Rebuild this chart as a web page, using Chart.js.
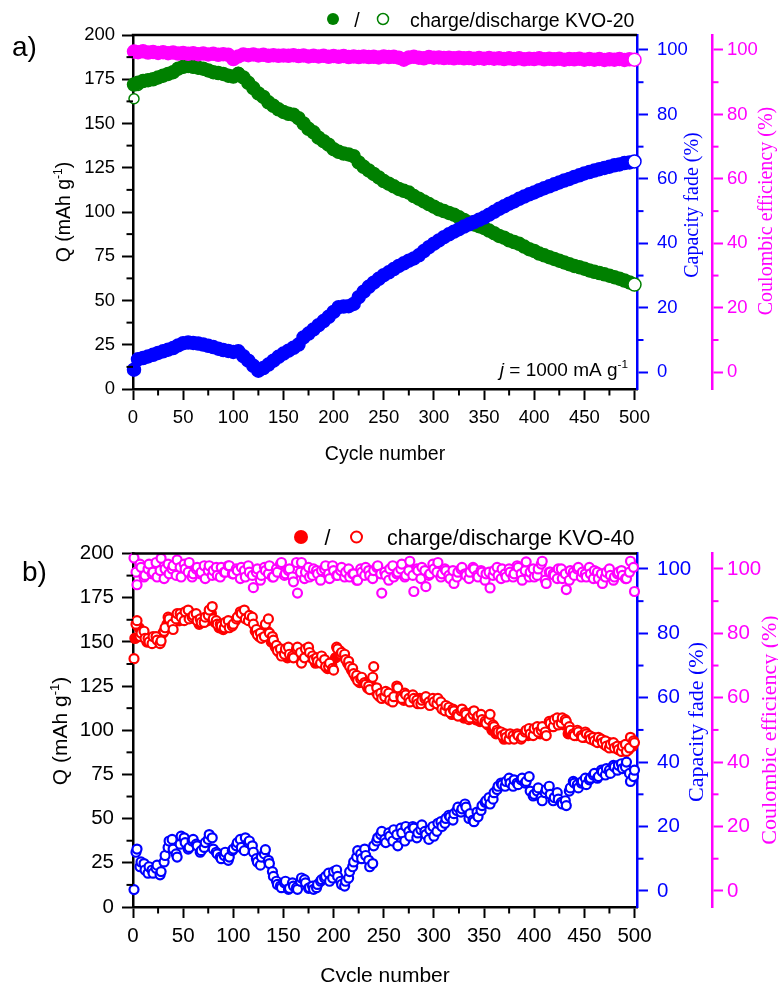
<!DOCTYPE html>
<html><head><meta charset="utf-8">
<script src="https://cdn.jsdelivr.net/npm/chart.js@4.4.1/dist/chart.umd.min.js"></script>
<style>
html,body{margin:0;padding:0;background:#fff;}
#wrap{position:relative;width:778px;height:982px;overflow:hidden;background:#fff;}
canvas{position:absolute;left:0;}
#c1{top:0;} #c2{top:490px;}
</style></head><body>
<div id="wrap"><canvas id="c1" width="778" height="490"></canvas><canvas id="c2" width="778" height="492"></canvas></div>
<script>
const SANS = '"Liberation Sans", Arial, Helvetica, sans-serif';
const SERIF = '"Liberation Serif", "Times New Roman", Times, serif';
const GREEN = '#008000', BLUE = '#0000ff', MAGENTA = '#ff00ff', RED = '#ff0000';

// ---------- tick labels ----------
const xTickLabels = [0,50,100,150,200,250,300,350,400,450,500];
const qTickLabels = [0,25,50,75,100,125,150,175,200];
const pctTickLabels = [0,20,40,60,80,100];

// ---------- panel a) KVO-20 ----------
const cyclesA = [1,5,10,15,20,25,30,35,40,45,50,55,60,65,70,75,80,85,90,95,100,105,110,115,120,125,130,135,140,145,150,155,160,165,170,175,180,185,190,195,200,205,210,215,220,225,230,235,240,245,250,255,260,265,270,275,280,285,290,295,300,305,310,315,320,325,330,335,340,345,350,355,360,365,370,375,380,385,390,395,400,405,410,415,420,425,430,435,440,445,450,455,460,465,470,475,480,485,490,495,500];
const chargeA = [172,173,174,174.5,175,176,177,178,179,181,182,182.5,182,181.5,181,180,179,178.5,178,177,176.5,178,176,173,170,167,165,162,160,158,156.5,155.5,155,153,150,147,145,142,140,138,135.5,134,133,132.5,131.5,128,125.5,123.5,121.5,119.5,117.5,116,114.5,113,112,111,109,107.5,106,104.5,103,101.5,100.5,99.5,98.5,97,95.5,94,93,92,91,89.5,88,86.5,85.5,84,83,82,80.5,79,78,76.5,75.5,74.5,73.5,72.5,71.5,70.5,69.5,68.8,68,67,66.2,65.5,64.8,64,63.2,62.3,61.3,60.2,59];
const dischargeA = [164,171.5,173.5,174,174.5,175.5,176.5,177.5,178.5,180.5,181.5,182,181.5,181,180.5,179.5,178.5,178,177.5,176.5,176,179,175.5,172.5,169.5,166.5,164.5,161.5,159.5,157.5,156,155,154.5,152.5,149.5,146.5,144.5,141.5,139.5,137.5,135,133.5,132.5,132,131,127.5,125,123,121,119,117,115.5,114,112.5,111.5,110.5,108.5,107,105.5,104,102.5,101,100,99,98,96.5,95,93.5,92.5,91.5,90.5,89,87.5,86,85,83.5,82.5,81.5,80,78.5,77.5,76,75,74,73,72,71,70,69,68.3,67.5,66.5,65.7,65,64.3,63.5,62.7,61.8,60.8,59.7,58.5];
const fadeA = [0.8,4.0,4.4,4.9,5.4,6.0,6.5,7.0,7.5,8.3,9.0,9.2,9.1,8.9,8.6,8.2,7.8,7.3,6.9,6.6,6.3,6.5,5.0,3.6,2.0,0.5,1.3,2.4,3.6,4.8,5.8,6.7,7.6,8.6,10.8,12.0,13.3,14.6,15.9,17.2,18.7,20.2,20.4,20.5,21.2,23.3,25.0,26.5,27.8,29.0,30.1,31.0,32.0,33.0,33.8,34.6,35.3,36.3,37.6,38.8,39.9,40.9,41.9,42.8,43.6,44.4,45.2,45.9,46.6,47.3,48.0,48.9,49.8,50.7,51.5,52.3,53.0,53.8,54.5,55.2,55.8,56.5,57.1,57.7,58.3,58.9,59.5,60.0,60.6,61.1,61.7,62.1,62.6,63.0,63.4,63.8,64.2,64.5,64.9,65.1,65.4];
const ceA = [99.5,99.3,99.6,99.2,99.4,99.1,99.3,99.0,99.2,98.9,99.1,98.8,99.0,98.7,98.9,98.6,98.8,98.5,98.7,98.5,97.2,98.0,98.6,98.4,98.6,98.3,98.5,98.2,98.4,98.2,98.3,98.2,98.4,98.1,98.3,98.0,98.2,98.0,98.2,97.9,98.1,97.9,98.1,97.8,98.0,97.8,98.0,97.8,97.9,97.7,98.0,97.8,97.9,97.6,97.0,97.7,97.9,97.6,97.4,97.8,97.6,97.7,97.5,97.6,97.4,97.6,97.4,97.5,97.3,97.5,97.3,97.5,97.3,97.4,97.2,97.4,97.2,97.4,97.1,97.3,97.2,97.4,97.1,97.3,97.1,97.3,97.0,97.2,97.1,97.3,97.0,97.2,97.0,97.2,96.9,97.1,97.0,97.2,96.9,97.1,97.0];

// ---------- panel b) KVO-40 ----------
const cyclesB = [1,4,8,12,16,20,24,28,32,36,40,44,48,52,56,60,64,68,72,76,80,84,88,92,96,100,104,108,112,116,120,124,128,132,136,140,144,148,152,156,160,164,168,172,176,180,184,188,192,196,200,204,208,212,216,220,224,228,232,236,240,244,248,252,256,260,264,268,272,276,280,284,288,292,296,300,304,308,312,316,320,324,328,332,336,340,344,348,352,356,360,364,368,372,376,380,384,388,392,396,400,404,408,412,416,420,424,428,432,436,440,444,448,452,456,460,464,468,472,476,480,484,488,492,496,500];
const cyclesB2 = [3,7,11,15,19,23,27,31,35,39,43,47,51,55,59,63,67,71,75,79,83,87,91,95,99,103,107,111,115,119,123,127,131,135,139,143,147,151,155,159,163,167,171,175,179,183,187,191,195,199,203,207,211,215,219,223,227,231,235,239,243,247,251,255,259,263,267,271,275,279,283,287,291,295,299,303,307,311,315,319,323,327,331,335,339,343,347,351,355,359,363,367,371,375,379,383,387,391,395,399,403,407,411,415,419,423,427,431,435,439,443,447,451,455,459,463,467,471,475,479,483,487,491,495,499];
const chargeCyclesB = [2,6,10,14,18,22,26,30,34,38,42,46,50,54,58,62,66,70,74,78,82,86,90,94,98,102,106,110,114,118,122,126,130,134,138,142,146,150,154,158,162,166,170,174,178,182,186,190,194,198,202,206,210,214,218,222,226,230,234,238,242,246,250,254,258,262,266,270,274,278,282,286,290,294,298,302,306,310,314,318,322,326,330,334,338,342,346,350,354,358,362,366,370,374,378,382,386,390,394,398,402,406,410,414,418,422,426,430,434,438,442,446,450,454,458,462,466,470,474,478,482,486,490,494,498];
const dischargeB = [140.5,162,155,152,150,153,151,150.5,158,163,157,166,164,167,163,165,162,161,164,168,163,160,159,161,158,160,164,166,163,165,160,154,152,160,155,151,145,142,146,143,141,147,138,146,144,140,139,142,136,138,134,146,144,140,136,132,128,130,126,123,136,120,118,122,117,119,124,118,120,116,118,115,117,119,114,116,118,112,114,110,111,108,112,109,107,111,108,106,104,109,102,99,97,96,98,95,97,96,100,98,101,99,102,97,104,106,103,107,105,100,97,99,96,98,95,94,96,93,91,92,90,89,91,88,96,93];
const dischargeB2 = [160,153,156,152,149,153,149,156,164,160,163,166,162,168,164,166,163,161,165,170,162,160,158,162,159,163,167,168,162,164,157,155,153,163,153,148,146,143,147,142,146,144,141,147,142,141,138,140,136,135,147,143,143,139,135,131,129,127,125,130,124,121,119,121,116,125,119,121,118,120,117,115,118,116,118,115,116,111,113,112,109,111,110,106,109,107,109,105,106,103,100,99,98,95,97,98,95,99,101,97,102,100,99,105,102,107,104,106,102,98,100,97,99,97,96,93,95,94,90,93,91,88,92,90,94];
const chargeB = [152,158,154,150,152,150,152,155,160,161,164,162,165,164,166,163,160,163,162,166,161,158,157,160,161,162,165,167,164,162,156,153,155,156,150,147,144,145,141,143,145,144,142,145,141,138,140,138,135,137,141,145,142,138,134,130,127,128,124,125,122,119,120,118,120,118,121,117,119,117,116,118,116,117,115,117,114,113,112,109,110,110,107,108,110,106,105,107,103,100,98,98,95,97,96,96,97,98,97,99,100,98,100,102,103,104,105,103,98,99,97,98,96,97,95,95,94,92,93,91,90,89,90,89,91];
const fadeB = [0.4,13.0,9.0,6.5,7.5,5.5,8.0,6.0,11.0,15.5,13.0,10.5,17.0,15.0,13.5,16.0,14.0,12.5,15.0,17.5,13.0,11.5,10.0,12.0,10.5,13.0,15.0,13.5,16.5,15.5,12.0,9.0,10.5,12.8,8.5,4.5,2.0,1.0,3.0,0.8,1.5,0.5,4.0,2.5,1.0,0.5,2.0,3.5,4.5,3.0,6.0,4.5,2.0,3.0,6.0,9.0,12.5,10.0,11.0,7.5,14.0,16.5,18.5,15.0,17.0,19.0,14.0,18.0,20.0,17.0,19.5,18.0,20.5,17.5,19.0,17.0,21.0,20.0,22.5,23.0,24.0,26.0,25.5,26.0,24.0,21.5,23.0,26.5,28.0,27.0,30.5,32.5,33.0,34.0,33.5,34.5,33.0,35.0,34.0,31.0,30.0,32.0,28.0,31.5,30.0,29.0,28.5,27.0,26.5,32.0,33.5,32.0,34.0,33.0,35.0,36.5,35.5,37.0,38.0,36.5,38.5,39.0,38.0,40.0,34.0,37.5];
const fadeB2 = [12.0,7.5,8.5,5.5,6.5,7.0,5.0,9.0,13.5,16.0,11.5,14.5,16.5,13.0,15.5,14.5,12.0,13.5,16.0,16.5,12.0,10.5,11.0,9.5,12.5,14.0,16.0,12.5,15.0,14.0,10.0,8.0,11.5,9.5,6.0,3.0,1.5,2.5,0.5,2.5,1.0,3.0,3.5,0.8,1.5,1.0,3.0,4.0,5.5,4.0,6.5,3.0,1.5,4.0,7.5,10.5,11.5,13.0,9.5,8.5,15.5,17.5,16.0,18.0,15.5,17.5,19.5,15.5,18.5,20.0,16.5,19.0,18.5,16.0,20.0,18.5,21.5,21.0,23.5,22.0,25.0,24.5,27.0,22.5,22.0,24.5,25.0,27.5,29.0,28.5,31.5,33.5,32.5,35.0,32.5,33.5,34.5,33.5,35.5,29.5,31.0,29.0,30.5,32.5,28.0,30.5,27.5,28.0,31.0,34.0,33.0,33.5,35.0,34.5,36.0,35.0,37.5,36.0,37.5,39.0,37.5,39.5,38.5,36.5,35.5];
const ceB = [103.4,95.1,100.5,98.0,101.5,99.0,97.5,103.3,100.0,98.5,101.0,102.8,97.5,100.0,102.0,98.5,100.5,99.0,97.0,101.0,99.5,98.0,100.5,99.0,101.0,98.5,99.5,100.5,97.5,99.0,94.2,100.0,98.0,99.5,101.0,97.5,99.0,102.0,98.5,100.0,96.0,92.5,102.0,99.0,97.5,100.0,98.5,99.5,101.0,97.0,99.5,98.0,100.5,99.0,97.5,98.5,96.5,99.0,100.5,98.0,99.5,101.0,92.5,98.0,100.0,97.5,99.0,101.5,98.0,102.4,93.0,99.5,100.5,94.5,98.5,100.0,102.0,98.5,99.5,97.0,95.5,99.0,100.5,98.0,99.0,100.0,97.5,99.0,98.5,94.1,99.5,98.0,100.0,97.5,99.0,98.5,100.5,96.5,102.2,99.0,97.5,100.0,102.4,95.5,99.0,98.0,100.0,97.0,93.6,99.5,98.0,100.5,99.0,97.5,98.5,99.5,97.0,95.5,99.0,98.0,97.5,99.0,98.0,97.0,102.4,93.0];
const ceB2 = [99.0,101.5,97.5,100.0,98.5,102.0,99.5,97.0,101.5,100.0,98.0,100.5,101.5,99.0,97.5,100.0,98.5,101.0,99.5,98.0,100.5,97.5,99.0,101.0,98.5,100.0,97.0,99.5,101.0,98.0,99.0,96.5,100.5,98.5,97.5,100.0,101.5,98.0,99.5,97.5,102.0,99.0,97.0,100.5,98.0,99.5,96.5,100.0,98.5,101.0,98.0,99.5,97.5,100.0,98.5,96.5,100.0,98.0,99.5,97.0,100.5,98.5,99.0,96.5,101.0,98.5,100.0,97.5,99.5,98.0,100.0,97.0,99.5,98.0,101.5,99.0,97.5,100.0,98.0,99.5,97.5,100.0,98.5,97.0,100.5,98.0,99.5,96.5,99.0,98.0,100.5,97.0,98.5,100.0,97.5,101.0,98.5,99.5,97.5,100.0,98.0,101.5,96.5,99.0,98.5,97.0,100.0,98.5,96.5,99.0,100.0,97.5,98.5,100.5,97.0,99.0,98.5,97.5,100.0,96.5,98.5,99.5,97.0,99.0,100.5];

function pts(xs, ys) { const n = Math.min(xs.length, ys.length); const a = []; for (let i = 0; i < n; i++) a.push({x: xs[i], y: ys[i]}); return a; }
function merged(xs1, ys1, xs2, ys2) { return pts(xs1, ys1).concat(pts(xs2, ys2)).sort((a, b) => a.x - b.x); }

function withMinors(majors) {
  const out = majors.slice();
  for (let i = 0; i < majors.length - 1; i++) out.push((majors[i] + majors[i + 1]) / 2);
  return out.sort((a, b) => a - b);
}

function rich(ctx, segs, x, y, o) {
  ctx.save(); ctx.translate(x, y); if (o.rot) ctx.rotate(o.rot);
  ctx.fillStyle = o.color || '#000'; ctx.textBaseline = 'alphabetic'; ctx.textAlign = 'left';
  const parts = segs.map(s => {
    const sz = s.sup ? o.size * 0.62 : o.size;
    const f = (s.italic ? 'italic ' : '') + sz + 'px ' + (o.family || SANS);
    ctx.font = f;
    return {t: s.t, f, w: ctx.measureText(s.t).width, dy: s.sup ? -o.size * 0.4 : 0};
  });
  const total = parts.reduce((a, p) => a + p.w, 0);
  let cx = o.align === 'center' ? -total / 2 : (o.align === 'right' ? -total : 0);
  for (const p of parts) { ctx.font = p.f; ctx.fillText(p.t, cx, p.dy); cx += p.w; }
  ctx.restore();
}

function makePanel(P) {
  const xTicks = withMinors(xTickLabels), qTicks = withMinors(qTickLabels), pTicks = withMinors(pctTickLabels);
  const majorColor = (majors, col) => (c) => (c.tick && majors.includes(c.tick.value)) ? col : 'rgba(0,0,0,0)';
  const axisFont = {family: SANS, size: P.fs.tick};
  const setTicks = (list) => (scale) => { scale.ticks = list.map(v => ({value: v})); };
  const lbl = (majors) => (v) => majors.includes(v) ? String(v) : '';

  const deco = {
    id: 'deco' + P.id,
    afterDraw(chart) {
      const ctx = chart.ctx, a = chart.chartArea, s = chart.scales;
      ctx.save();
      ctx.strokeStyle = '#000'; ctx.lineWidth = 2.5;
      ctx.beginPath(); ctx.moveTo(a.left - 1.2, a.top); ctx.lineTo(a.right, a.top); ctx.stroke();
      const minor = (scale, majors, side, col) => {
        ctx.strokeStyle = col; ctx.lineWidth = 2;
        for (const t of scale.ticks) {
          if (majors.includes(t.value)) continue;
          const p = scale.getPixelForValue(t.value);
          ctx.beginPath();
          if (side === 'bottom') { ctx.moveTo(p, scale.top); ctx.lineTo(p, scale.top + 6.5); }
          else if (side === 'left') { ctx.moveTo(scale.right, p); ctx.lineTo(scale.right - 6.5, p); }
          else { ctx.moveTo(scale.left, p); ctx.lineTo(scale.left + 6.5, p); }
          ctx.stroke();
        }
      };
      minor(s.x, xTickLabels, 'bottom', '#000');
      minor(s.y, qTickLabels, 'left', '#000');
      minor(s.yB, pctTickLabels, 'right', BLUE);
      minor(s.yP, pctTickLabels, 'right', MAGENTA);
      ctx.restore();
      const T = P.titles;
      rich(ctx, [{t: 'Q (mAh g'}, {t: '-1', sup: true}, {t: ')'}], T.q.x, T.q.y, {size: P.fs.title, align: 'center', rot: -Math.PI / 2});
      rich(ctx, [{t: 'Cycle number'}], T.x.x, T.x.y, {size: P.fs.title, align: 'center'});
      rich(ctx, [{t: 'Capacity fade (%)'}], T.b.x, T.b.y, {size: P.fs.serif, family: SERIF, color: BLUE, align: 'center', rot: -Math.PI / 2});
      rich(ctx, [{t: 'Coulombic efficiency (%)'}], T.p.x, T.p.y, {size: P.fs.serif, family: SERIF, color: MAGENTA, align: 'center', rot: -Math.PI / 2});
      rich(ctx, [{t: P.label.text}], P.label.x, P.label.y, {size: 28});
      const L = P.legend;
      ctx.save();
      ctx.fillStyle = L.color; ctx.beginPath(); ctx.arc(L.filled, L.cy, L.r1, 0, Math.PI * 2); ctx.fill();
      ctx.strokeStyle = L.color; ctx.lineWidth = L.lw; ctx.fillStyle = '#fff';
      ctx.beginPath(); ctx.arc(L.hollow, L.cy, L.r2, 0, Math.PI * 2); ctx.fill(); ctx.stroke();
      ctx.restore();
      rich(ctx, [{t: '/'}], L.slash, L.y, {size: P.fs.legend, align: 'center'});
      rich(ctx, [{t: L.text}], L.textX, L.y, {size: P.fs.legend});
      if (P.note) rich(ctx, [{t: 'j', italic: true}, {t: ' = 1000 mA g'}, {t: '-1', sup: true}], P.note.x, P.note.y, {size: P.fs.note, align: 'right'});
    }
  };

  const A = P.area;
  new Chart(document.getElementById(P.id), {
    type: 'scatter',
    data: {datasets: P.datasets},
    options: {
      responsive: false, animation: false, devicePixelRatio: 1,
      layout: {padding: {top: A.top, left: 0, right: 0, bottom: 0}},
      plugins: {legend: {display: false}, tooltip: {enabled: false}},
      events: [],
      scales: {
        x: {
          type: 'linear', position: 'bottom', min: 0, max: P.xMax, bounds: 'data',
          afterBuildTicks: setTicks(xTicks),
          afterFit: (s) => { s.height = P.H - A.bottom; },
          ticks: {autoSkip: false, maxRotation: 0, minRotation: 0, color: '#000', font: axisFont, padding: P.pads.x, callback: lbl(xTickLabels)},
          grid: {display: true, drawOnChartArea: false, drawTicks: true, tickLength: 11, tickWidth: 2, tickColor: majorColor(xTickLabels, '#000')},
          border: {display: true, color: '#000', width: 2.5}
        },
        y: {
          type: 'linear', position: 'left', min: 0, max: 200, bounds: 'data',
          afterBuildTicks: setTicks(qTicks),
          afterFit: (s) => { s.width = A.left; },
          ticks: {autoSkip: false, color: '#000', font: axisFont, padding: P.pads.y, callback: lbl(qTickLabels)},
          grid: {display: true, drawOnChartArea: false, drawTicks: true, tickLength: 11, tickWidth: 2, tickColor: majorColor(qTickLabels, '#000')},
          border: {display: true, color: '#000', width: 2.5}
        },
        yB: {
          type: 'linear', position: 'right', weight: 0, min: P.pMin, max: P.pMax, bounds: 'data',
          afterBuildTicks: setTicks(pTicks),
          afterFit: (s) => { s.width = 712 - A.right; },
          ticks: {autoSkip: false, color: BLUE, font: axisFont, padding: P.pads.b, callback: lbl(pctTickLabels)},
          grid: {display: true, drawOnChartArea: false, drawTicks: true, tickLength: 11, tickWidth: 2, tickColor: majorColor(pctTickLabels, BLUE)},
          border: {display: true, color: BLUE, width: 2.5}
        },
        yP: {
          type: 'linear', position: 'right', weight: 1, min: P.pMin, max: P.pMax, bounds: 'data',
          afterBuildTicks: setTicks(pTicks),
          afterFit: (s) => { s.width = 778 - 712; },
          ticks: {autoSkip: false, color: MAGENTA, font: axisFont, padding: P.pads.p, callback: lbl(pctTickLabels)},
          grid: {display: true, drawOnChartArea: false, drawTicks: true, tickLength: 11, tickWidth: 2, tickColor: majorColor(pctTickLabels, MAGENTA)},
          border: {display: true, color: MAGENTA, width: 2.5}
        }
      }
    },
    plugins: [deco]
  });
}

function ds(label, data, color, axis, order, style) {
  const n = data.length;
  return {
    label, data, yAxisID: axis, order, clip: false, showLine: false,
    pointStyle: 'circle', pointRadius: style.r, pointHoverRadius: style.r, pointBorderWidth: style.bw,
    borderColor: color, pointBorderColor: color,
    pointBackgroundColor: style.fill === 'solid' ? (c => (style.lastWhite && c.dataIndex === n - 1) ? '#fff' : color) : '#fff',
    backgroundColor: color
  };
}

const topStyle = {r: 6.5, bw: 1.5, fill: 'solid', lastWhite: true};
makePanel({
  id: 'c1', H: 490, area: {top: 35, bottom: 389, left: 133, right: 637}, xMax: 502.5, pMin: -5.2, pMax: 104.65,
  fs: {tick: 18.5, title: 19.5, serif: 20, legend: 19.5, note: 19},
  pads: {x: 7, y: 7, b: 9, p: 4},
  label: {text: 'a)', x: 12, y: 56},
  legend: {y: 27, cy: 19, filled: 333, slash: 357, hollow: 383, textX: 410, color: GREEN, r1: 6, r2: 5.5, lw: 1.5, text: 'charge/discharge KVO-20'},
  titles: {q: {x: 70, y: 212}, x: {x: 385, y: 460}, b: {x: 698, y: 205}, p: {x: 772, y: 211}},
  note: {x: 628, y: 375.5},
  datasets: [
    ds('Capacity fade KVO-20', pts(cyclesA, fadeA), BLUE, 'yB', 1, topStyle),
    ds('Coulombic efficiency KVO-20', pts(cyclesA, ceA), MAGENTA, 'yP', 2, topStyle),
    ds('charge KVO-20', pts(cyclesA, chargeA), GREEN, 'y', 3, topStyle),
    ds('discharge KVO-20', pts(cyclesA, dischargeA), GREEN, 'y', 4, {r: 5, bw: 1.5, fill: 'white'})
  ]
});

const hollowB = {r: 4.5, bw: 2.2, fill: 'white'};
makePanel({
  id: 'c2', H: 492, area: {top: 63.5, bottom: 417, left: 133, right: 637}, xMax: 502.5, pMin: -5, pMax: 104.8,
  fs: {tick: 20.5, title: 21, serif: 22, legend: 21.5},
  pads: {x: 6, y: 8, b: 9, p: 4},
  label: {text: 'b)', x: 22, y: 91},
  legend: {y: 55, cy: 47, filled: 301, slash: 327.5, hollow: 356.5, textX: 387, color: RED, r1: 7, r2: 5.5, lw: 2, text: 'charge/discharge KVO-40'},
  titles: {q: {x: 67, y: 241}, x: {x: 385, y: 491.5}, b: {x: 703, y: 232}, p: {x: 776, y: 240}},
  note: null,
  datasets: [
    ds('Capacity fade KVO-40', merged(cyclesB, fadeB, cyclesB2, fadeB2), BLUE, 'yB', 1, hollowB),
    ds('Coulombic efficiency KVO-40', merged(cyclesB, ceB, cyclesB2, ceB2), MAGENTA, 'yP', 2, hollowB),
    ds('discharge KVO-40', merged(cyclesB, dischargeB, cyclesB2, dischargeB2), RED, 'y', 3, hollowB),
    ds('charge KVO-40', pts(chargeCyclesB, chargeB), RED, 'y', 4, {r: 5, bw: 1.5, fill: 'solid'})
  ]
});
</script>
</body></html>
